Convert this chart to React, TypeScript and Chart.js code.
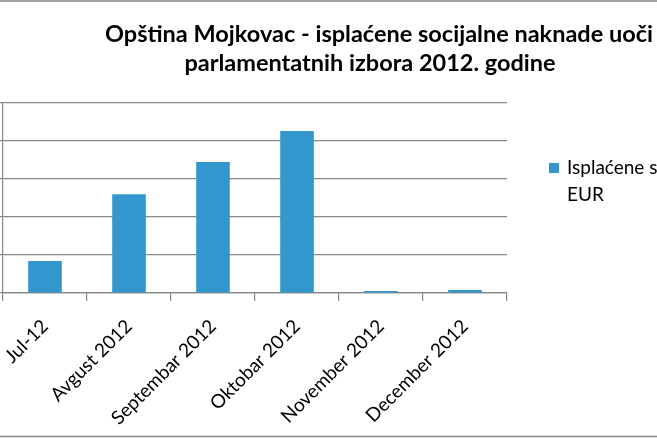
import React, { useEffect, useRef } from "react";
import { Chart, registerables } from "chart.js";

Chart.register(...registerables);

const categories = ["Jul-12", "Avgust 2012", "Septembar 2012", "Oktobar 2012", "November 2012", "December 2012"];
const paidValues = [8400, 26000, 34500, 42600, 500, 800];
const seriesLabel = ["Isplaćene socijalne naknade u", "EUR"];
const titleLines = ["Opština Mojkovac - isplaćene socijalne naknade uoči", "parlamentatnih izbora 2012. godine"];
const yMax = 50000;
const yStep = 10000;

const BAR = "#3397ce";
const GRID = "#878787";
const FONT = "Lato, 'Open Sans', sans-serif";

const decorPlugin = {
  id: "decor",
  afterDraw(chart: any) {
    const ctx = chart.ctx as CanvasRenderingContext2D;
    const W = chart.width;
    const H = chart.height;
    ctx.save();
    // outer frame lines
    ctx.strokeStyle = GRID;
    ctx.lineWidth = 1.5;
    ctx.beginPath();
    ctx.moveTo(0, 1);
    ctx.lineTo(W, 1);
    ctx.moveTo(0, H - 1.5);
    ctx.lineTo(W, H - 1.5);
    ctx.stroke();
    // title
    ctx.fillStyle = "#000";
    ctx.textAlign = "center";
    ctx.textBaseline = "alphabetic";
    ctx.font = `bold 23.5px ${FONT}`;
    ctx.fillText(titleLines[0], 379, 42);
    ctx.fillText(titleLines[1], 370, 71);
    // legend
    const area = chart.chartArea;
    const lx = area.right + 42;
    ctx.fillStyle = BAR;
    ctx.fillRect(lx, 163, 10, 10);
    ctx.fillStyle = "#000";
    ctx.textAlign = "left";
    ctx.textBaseline = "middle";
    ctx.font = `19px ${FONT}`;
    ctx.fillText(seriesLabel[0], lx + 18, 168);
    ctx.fillText(seriesLabel[1], lx + 18, 195);
    ctx.restore();
  },
};

export default function App() {
  const ref = useRef<HTMLCanvasElement | null>(null);
  useEffect(() => {
    if (!ref.current) return;
    const chart = new Chart(ref.current, {
      type: "bar",
      data: {
        labels: categories,
        datasets: [
          {
            label: seriesLabel.join(" "),
            data: paidValues,
            backgroundColor: BAR,
            borderWidth: 0,
            categoryPercentage: 1,
            barPercentage: 0.4,
          },
        ],
      },
      options: {
        animation: false,
        responsive: true,
        maintainAspectRatio: false,
        layout: { padding: { top: 103, right: 150, bottom: 0, left: 0 } },
        plugins: {
          legend: { display: false },
          title: { display: false },
          tooltip: { enabled: false },
        },
        scales: {
          y: {
            min: 0,
            max: yMax,
            ticks: { stepSize: yStep, display: false },
            grid: { color: GRID, lineWidth: 1.2, tickLength: 3, drawTicks: true },
            border: { color: GRID, width: 1.2 },
          },
          x: {
            ticks: {
              maxRotation: 45,
              minRotation: 45,
              color: "#000",
              font: { family: FONT, size: 19 },
              padding: 14,
            },
            grid: { offset: true, drawOnChartArea: false, drawTicks: true, tickLength: 8, color: GRID, lineWidth: 1.2 },
            border: { color: GRID, width: 1.2 },
            afterFit: (scale: any) => {
              scale.height = 145;
              scale.paddingLeft = 0;
              scale.paddingRight = 0;
            },
          },
        },
      },
      plugins: [decorPlugin],
    });
    return () => chart.destroy();
  }, []);
  return (
    <div style={{ position: "fixed", left: 0, top: 0, width: 657, height: 438, background: "#fff" }}>
      <canvas ref={ref} />
    </div>
  );
}
